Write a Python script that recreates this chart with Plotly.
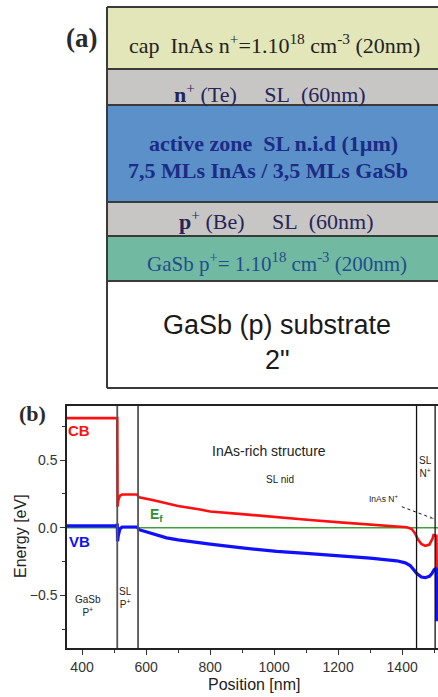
import plotly.graph_objects as go

W, H = 438, 697

# ---------------- data: band diagram (b) ----------------
cb_pos = [353, 509, 510, 511, 513, 518, 525, 545, 572, 575, 578, 620, 664, 700, 769, 800, 900,
          956, 1000, 1112, 1216, 1320, 1415, 1430, 1440, 1450, 1460, 1472, 1485, 1495, 1498,
          1507, 1508, 1520]
cb_val = [0.81, 0.81, 0.81, 0.155, 0.20, 0.235, 0.245, 0.245, 0.245, 0.235, 0.225, 0.205, 0.18,
          0.16, 0.135, 0.12, 0.10, 0.09, 0.08, 0.057, 0.037, 0.02, 0.003, -0.01, -0.04, -0.09,
          -0.12, -0.135, -0.125, -0.08, -0.055, -0.06, -0.31, -0.31]

vb_pos = [353, 509, 510, 511, 513, 518, 525, 572, 578, 600, 664, 700, 769, 800, 900, 1008, 1100,
          1216, 1300, 1383, 1410, 1425, 1436, 1446, 1460, 1472, 1485, 1493, 1500, 1507, 1508, 1520]
vb_val = [0.013, 0.013, 0.03, -0.10, -0.06, -0.01, 0.005, 0.005, -0.015, -0.03, -0.075, -0.09,
          -0.113, -0.122, -0.15, -0.175, -0.19, -0.21, -0.225, -0.245, -0.26, -0.28, -0.31,
          -0.34, -0.365, -0.37, -0.36, -0.34, -0.31, -0.30, -0.68, -0.68]

ef_pos = [353, 1520]
ef_val = [0.0, 0.0]

layer_boundaries = [510, 575, 1445, 1503]
boundary_colors = ["#555555", "#555555", "#111111", "#111111"]

x_range = [353, 1512]
y_range = [-0.89, 0.90]

# ---------------- data: layer stack (a) ----------------
layer_names = ["cap", "n+ SL", "active", "p+ SL", "GaSb p+", "substrate"]
layer_colors = ["#e2e6b8", "#c8c6c4", "#5b90c8", "#c8c6c4", "#72b9a2", "#ffffff"]
layer_edges_px = [7, 69, 105, 202, 236, 281, 388]   # pixel rows of layer borders

def px(x):
    return x / W

def py(y):
    return 1 - y / H

fig = go.Figure()

fig.add_trace(go.Scatter(x=ef_pos, y=ef_val, mode="lines",
                         line=dict(color="#3f9f3f", width=1.5), hoverinfo="skip"))
fig.add_trace(go.Scatter(x=cb_pos, y=cb_val, mode="lines",
                         line=dict(color="#ff1010", width=2.6), hoverinfo="skip"))
fig.add_trace(go.Scatter(x=vb_pos, y=vb_val, mode="lines",
                         line=dict(color="#1010ff", width=3.2), hoverinfo="skip"))

# dotted arrow InAs N+
fig.add_trace(go.Scatter(x=[1399, 1503], y=[0.155, 0.062], mode="lines+markers",
                         line=dict(color="#111111", width=1, dash="dot"),
                         marker=dict(symbol=["circle", "arrow"], size=[0, 6],
                                     angleref="previous", color="#111111"),
                         hoverinfo="skip"))

shapes = []
for xb, c in zip(layer_boundaries, boundary_colors):
    shapes.append(dict(type="line", xref="x", yref="y domain", x0=xb, x1=xb, y0=0, y1=1,
                       line=dict(color=c, width=1.8 if c == "#555555" else 1.3)))

# layer stack rectangles
x0a, x1a = px(107), px(438)
for i, col in enumerate(layer_colors):
    shapes.append(dict(type="rect", xref="paper", yref="paper", layer="below",
                       x0=x0a, x1=x1a, y0=py(layer_edges_px[i + 1]), y1=py(layer_edges_px[i]),
                       fillcolor=col, line=dict(width=0)))
for e in layer_edges_px:
    shapes.append(dict(type="line", xref="paper", yref="paper", x0=x0a, x1=x1a,
                       y0=py(e), y1=py(e), line=dict(color="#3a3a3a", width=2)))
shapes.append(dict(type="line", xref="paper", yref="paper", x0=x0a, x1=x0a,
                   y0=py(layer_edges_px[-1]), y1=py(layer_edges_px[0]),
                   line=dict(color="#3a3a3a", width=2)))

SERIF = "Liberation Serif"
SANS = "Liberation Sans"
NB = "\u00a0"
ann = []

def A(text, x, y, size, color, family=SANS, **kw):
    d = dict(text=text, x=x, y=y, xref="paper", yref="paper", showarrow=False,
             font=dict(family=family, size=size, color=color), xanchor="center", yanchor="middle")
    d.update(kw)
    ann.append(d)

cx = px(274)
A("<b>(a)</b>", px(81), py(38), 27, "#2a2a2a", SERIF)
A(f"cap{NB} InAs n<sup>+</sup>=1.10<sup>18</sup> cm<sup>-3</sup> (20nm)", cx, py(44), 22, "#222222", SERIF)
A(f"<b>n</b><sup>+</sup> (Te){NB}{NB}{NB}{NB} SL{NB} (60nm)", px(270), py(93), 22, "#25255a", SERIF)
A(f"<b>active zone{NB} SL n.i.d (1µm)</b>", px(273), py(143), 22, "#1c2c86", SERIF)
A("<b>7,5 MLs InAs / 3,5 MLs GaSb</b>", px(268), py(170), 22, "#1c2c86", SERIF)
A(f"<b>p</b><sup>+</sup> (Be){NB}{NB}{NB}{NB} SL{NB} (60nm)", px(276), py(220), 22, "#25255a", SERIF)
A("GaSb p<sup>+</sup>= 1.10<sup>18</sup> cm<sup>-3</sup> (200nm)", px(277), py(262), 21, "#1f4e8c", SERIF)
A("GaSb (p) substrate", px(277), py(325), 27, "#1a1a1a", SANS)
A("2\"", px(277), py(360), 27, "#1a1a1a", SANS)

A("<b>(b)</b>", px(32), py(413), 22, "#2a2a2a", SERIF)
A("Energy [eV]", px(20), py(536), 16, "#222222", SANS, textangle=-90)
A("Position [nm]", px(254), py(684), 16, "#222222", SANS)

def D(text, x, y, size, color, bold=False, **kw):
    d = dict(text=f"<b>{text}</b>" if bold else text, x=x, y=y, xref="x", yref="y",
             showarrow=False, font=dict(family=SANS, size=size, color=color),
             xanchor="center", yanchor="middle")
    d.update(kw)
    ann.append(d)

D("CB", 392, 0.72, 15, "#ff1010", True)
D("VB", 392, -0.104, 15, "#1010ff", True)
D("E<sub>f</sub>", 605, 0.095, 14, "#2f8f2f", True, xanchor="left")
D("InAs-rich structure", 983, 0.567, 14, "#222222")
D("SL nid", 1019, 0.358, 10, "#222222")
D("InAs N<sup>+</sup>", 1344, 0.218, 8.5, "#222222")
D("SL<br>N<sup>+</sup>", 1472, 0.45, 10, "#222222")
D("GaSb<br>P<sup>+</sup>", 420, -0.58, 10, "#222222")
D("SL<br>P<sup>+</sup>", 537, -0.52, 10, "#222222")

fig.update_layout(
    width=W, height=H, margin=dict(l=0, r=0, t=0, b=0),
    paper_bgcolor="white", plot_bgcolor="white", showlegend=False,
    shapes=shapes, annotations=ann,
    xaxis=dict(domain=[px(67), 1.0], range=x_range, showgrid=False, zeroline=False,
               showline=True, linecolor="#222222", linewidth=1.5, mirror=True,
               ticks="outside", ticklen=5, tickwidth=1.2, tickcolor="#333333",
               tick0=400, dtick=200, automargin=False,
               tickfont=dict(family=SANS, size=14, color="#333333"),
               minor=dict(ticks="outside", ticklen=3, dtick=100, tick0=400, tickcolor="#333333")),
    yaxis=dict(domain=[1 - 648 / H, 1 - 406 / H], range=y_range, showgrid=False, zeroline=False,
               showline=True, linecolor="#222222", linewidth=1.5, mirror=False,
               ticks="outside", ticklen=5, tickwidth=1.2, tickcolor="#333333",
               tick0=0, dtick=0.5, tickformat=".1f", automargin=False,
               tickfont=dict(family=SANS, size=14, color="#333333"),
               minor=dict(ticks="outside", ticklen=3, dtick=0.25, tick0=0, tickcolor="#333333")),
)

fig.write_html("out.html", config={"displayModeBar": False},
               post_script="document.body.style.margin='0px';")
